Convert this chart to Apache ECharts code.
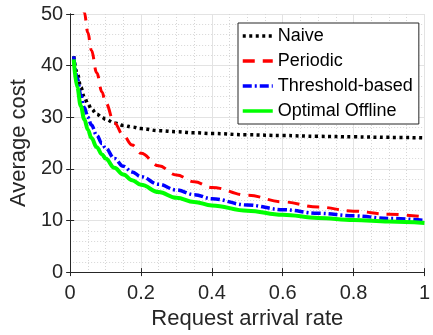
<!DOCTYPE html>
<html>
<head>
<meta charset="utf-8">
<script src="https://cdn.jsdelivr.net/npm/echarts@6/dist/echarts.min.js"></script>
<style>
  html, body { margin: 0; padding: 0; background: #fff; }
  #chart { width: 433px; height: 335px; }
</style>
</head>
<body>
<div id="chart"></div>
<script>
// request arrival rate samples
const rates = [0.01, 0.02, 0.03, 0.04, 0.05, 0.06, 0.075, 0.09, 0.1, 0.125, 0.15, 0.175,
               0.2, 0.25, 0.3, 0.35, 0.4, 0.5, 0.6, 0.7, 0.8, 0.9, 1.0];

const naive     = [41.8, 38.5, 35.8, 33.9, 32.6, 31.6, 30.6, 30.0, 29.6, 28.9, 28.4, 28.1,
                   27.8, 27.4, 27.2, 27.0, 26.85, 26.6, 26.45, 26.3, 26.2, 26.1, 26.0];
// periodic runs off the top of the axes below ~0.04
const periodic  = [null, null, 54.8, 50.3, 46.4, 43.0, 38.6, 34.9, 32.8, 28.9, 26.5, 24.6,
                   23.0, 20.6, 18.8, 17.5, 16.4, 14.9, 13.6, 12.6, 11.8, 11.2, 10.7];
const threshold = [41.8, 37.6, 34.3, 31.9, 30.0, 28.5, 26.5, 24.9, 24.0, 22.0, 20.5, 19.4,
                   18.5, 17.0, 15.9, 15.0, 14.2, 13.0, 12.1, 11.4, 10.9, 10.4, 10.0];
const optimal   = [41.2, 35.8, 32.2, 29.6, 27.6, 26.0, 24.2, 22.8, 22.0, 20.2, 18.9, 17.8,
                   16.9, 15.5, 14.4, 13.6, 12.9, 11.9, 11.1, 10.5, 10.1, 9.8, 9.5];

const xTicks = [0, 0.2, 0.4, 0.6, 0.8, 1];
const yTicks = [0, 10, 20, 30, 40, 50];

const FONT = '"Liberation Sans", Arial, Helvetica, sans-serif';
const INK = '#262626';

function pairs(ys) {
    return rates.map((x, i) => [x, ys[i]]);
}

function line(name, ys, color, width, type) {
    return {
        name: name,
        type: 'line',
        data: pairs(ys),
        symbol: 'none',
        smooth: 0.4,
        smoothMonotone: 'x',
        clip: true,
        lineStyle: {color: color, width: width, type: type},
        itemStyle: {color: color},
        z: 3
    };
}

const chart = echarts.init(document.getElementById('chart'), null, {renderer: 'canvas'});

const baseAxis = {
    axisLine: {show: true, lineStyle: {color: INK, width: 1}},
    axisTick: {show: true, inside: true, length: 4, lineStyle: {color: INK}},
    minorTick: {show: false},
    splitLine: {show: false},
    minorSplitLine: {show: false}
};

chart.setOption({
    animation: false,
    backgroundColor: '#fff',
    grid: {left: 62, right: 2, top: 14, bottom: 62, containLabel: false},
    legend: {
        orient: 'vertical',
        left: 238,
        top: 23,
        padding: [3, 6, 3, 3],
        itemGap: 5,
        itemWidth: 30,
        itemHeight: 14,
        backgroundColor: '#fff',
        borderColor: INK,
        borderWidth: 1,
        borderRadius: 0,
        // line series legends add a marker in the middle, hide it
        itemStyle: {opacity: 0},
        lineStyle: {width: 3.5},
        textStyle: {fontFamily: FONT, fontSize: 18, color: '#000', lineHeight: 20},
        data: ['Naive', 'Periodic', 'Threshold-based', 'Optimal Offline']
    },
    xAxis: [Object.assign({}, baseAxis, {
        type: 'value',
        min: 0, max: 1, interval: 0.2,
        name: 'Request arrival rate',
        nameLocation: 'middle',
        nameGap: 35,
        nameTextStyle: {fontFamily: FONT, fontSize: 22, color: INK},
        axisLabel: {fontFamily: FONT, fontSize: 20, color: INK, margin: 11,
                    formatter: v => xTicks.includes(+v.toFixed(2)) ? String(+v.toFixed(2)) : ''},
        minorTick: {show: false, splitNumber: 4},
        splitLine: {show: true, lineStyle: {color: '#e3e3e3', width: 1}},
        minorSplitLine: {show: true, lineStyle: {color: '#d6d6d6', width: 1, type: [1, 2]}}
    }), Object.assign({}, baseAxis, {
        type: 'value', position: 'top',
        min: 0, max: 1, interval: 0.2,
        axisLabel: {show: false}
    })],
    yAxis: [Object.assign({}, baseAxis, {
        type: 'value',
        min: 0, max: 50, interval: 10,
        name: 'Average cost',
        nameLocation: 'middle',
        nameGap: 36,
        nameTextStyle: {fontFamily: FONT, fontSize: 22, color: INK},
        axisLabel: {fontFamily: FONT, fontSize: 20, color: INK, margin: 7,
                    formatter: v => yTicks.includes(v) ? String(v) : ''},
        minorTick: {show: false, splitNumber: 5},
        splitLine: {show: true, lineStyle: {color: '#e3e3e3', width: 1}},
        minorSplitLine: {show: true, lineStyle: {color: '#d6d6d6', width: 1, type: [1, 2]}}
    }), Object.assign({}, baseAxis, {
        type: 'value', position: 'right',
        min: 0, max: 50, interval: 10,
        axisLabel: {show: false}
    })],
    series: [
        line('Naive', naive, '#000000', 3.5, [3, 3.5]),
        line('Periodic', periodic, '#ff0000', 3, [12, 8]),
        line('Threshold-based', threshold, '#0000ff', 3.5, [9, 3, 2, 3]),
        line('Optimal Offline', optimal, '#00ff00', 4, 'solid')
    ]
});
</script>
</body>
</html>
